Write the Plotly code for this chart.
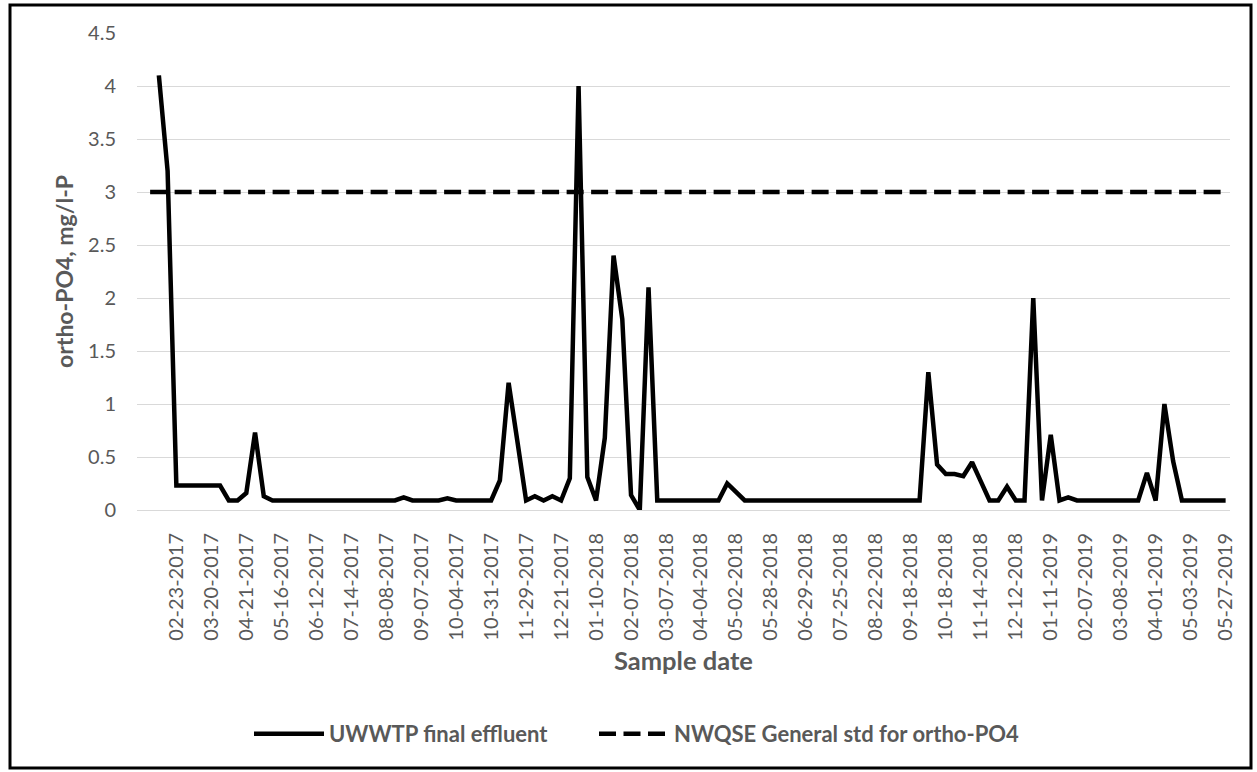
import plotly.graph_objects as go

# Sample dates shown on the category axis (every 4th sample is labelled)
date_labels = [
    "02-23-2017", "03-20-2017", "04-21-2017", "05-16-2017", "06-12-2017",
    "07-14-2017", "08-08-2017", "09-07-2017", "10-04-2017", "10-31-2017",
    "11-29-2017", "12-21-2017", "01-10-2018", "02-07-2018", "03-07-2018",
    "04-04-2018", "05-02-2018", "05-28-2018", "06-29-2018", "07-25-2018",
    "08-22-2018", "09-18-2018", "10-18-2018", "11-14-2018", "12-12-2018",
    "01-11-2019", "02-07-2019", "03-08-2019", "04-01-2019", "05-03-2019",
    "05-27-2019",
]

# ortho-PO4 in the final effluent, mg/l-P, one value per sample slot
effluent = [
    None, None, 4.10, 3.20, 0.23, 0.23, 0.23, 0.23, 0.23, 0.23,
    0.09, 0.09, 0.16, 0.73, 0.13, 0.09, 0.09, 0.09, 0.09, 0.09,
    0.09, 0.09, 0.09, 0.09, 0.09, 0.09, 0.09, 0.09, 0.09, 0.09,
    0.12, 0.09, 0.09, 0.09, 0.09, 0.11, 0.09, 0.09, 0.09, 0.09,
    0.09, 0.28, 1.20, 0.65, 0.09, 0.13, 0.09, 0.13, 0.09, 0.30,
    4.00, 0.31, 0.09, 0.68, 2.40, 1.80, 0.14, 0.00, 2.10, 0.09,
    0.09, 0.10, 0.09, 0.09, 0.09, 0.09, 0.09, 0.25, 0.17, 0.09,
    0.09, 0.09, 0.09, 0.09, 0.09, 0.09, 0.09, 0.09, 0.09, 0.09,
    0.09, 0.09, 0.09, 0.09, 0.09, 0.09, 0.09, 0.09, 0.09, 0.09,
    1.30, 0.43, 0.34, 0.34, 0.32, 0.45, 0.27, 0.09, 0.09, 0.22,
    0.09, 0.09, 2.00, 0.09, 0.71, 0.09, 0.12, 0.09, 0.09, 0.09,
    0.09, 0.09, 0.09, 0.09, 0.09, 0.35, 0.09, 1.00, 0.46, 0.09,
    0.09, 0.09, 0.09, 0.09, 0.09,
]

# NWQSE general standard for ortho-PO4, mg/l-P
standard = [None] + [3.0] * (len(effluent) - 1)

sample_no = list(range(1, len(effluent) + 1))
label_step = 4
first_labelled = 5
tick_positions = list(range(first_labelled, len(effluent) + 1, label_step))

TEXT = "#595959"
GRID = "#d9d9d9"
FONT = "Lato, 'Open Sans', sans-serif"

W, H = 1257, 772
L, R, T, B = 137, 27, 33, 262

fig = go.Figure()
fig.add_trace(go.Scatter(
    x=sample_no, y=effluent, mode="lines", name="UWWTP final effluent",
    line=dict(color="black", width=4.5), connectgaps=False,
    legend="legend",
))
fig.add_trace(go.Scatter(
    x=sample_no, y=standard, mode="lines",
    name="NWQSE General std for ortho-PO4",
    line=dict(color="black", width=4.5, dash="17px,7.5px"),
    legend="legend2",
))

# outer chart frame, given in page pixels and converted to paper units
pw, ph = W - L - R, H - T - B
def px_x(x):
    return (x - L) / pw
def px_y(y):
    return (H - B - y) / ph

fig.add_shape(type="rect", xref="paper", yref="paper",
              x0=px_x(10), x1=px_x(1251), y0=px_y(768), y1=px_y(5),
              line=dict(color="black", width=3), layer="above")

legend_style = dict(
    orientation="h", xanchor="left", y=px_y(734), yanchor="middle",
    font=dict(family=FONT, size=22, color=TEXT, weight="bold"),
    itemwidth=70, bgcolor="rgba(0,0,0,0)",
)

fig.update_layout(
    width=W, height=H,
    margin=dict(l=L, r=R, t=T, b=B),
    paper_bgcolor="white", plot_bgcolor="white",
    font=dict(family=FONT, color=TEXT, size=20),
    showlegend=True,
    legend=dict(x=px_x(249), **legend_style),
    legend2=dict(x=px_x(594), **legend_style),
    xaxis=dict(
        range=[0.5, len(effluent) + 0.5],
        tickmode="array", tickvals=tick_positions, ticktext=date_labels,
        tickangle=-90, ticks="", showgrid=False, zeroline=False,
        showline=True, linecolor=GRID, linewidth=1,
        tickfont=dict(family=FONT, size=20, color=TEXT),
        ticklabelstandoff=14,
        title=dict(text="Sample date", standoff=12,
                   font=dict(family=FONT, size=25.5, color=TEXT, weight="bold")),
    ),
    yaxis=dict(
        range=[0, 4.5], dtick=0.5, tick0=0,
        showgrid=True, gridcolor=GRID, gridwidth=1,
        zeroline=False, showline=False, ticks="",
        tickfont=dict(family=FONT, size=20, color=TEXT),
        ticklabelstandoff=20,
        title=dict(text="ortho-PO4, mg/l-P", standoff=8,
                   font=dict(family=FONT, size=23, color=TEXT, weight="bold")),
    ),
)

fig.write_html("out.html")
